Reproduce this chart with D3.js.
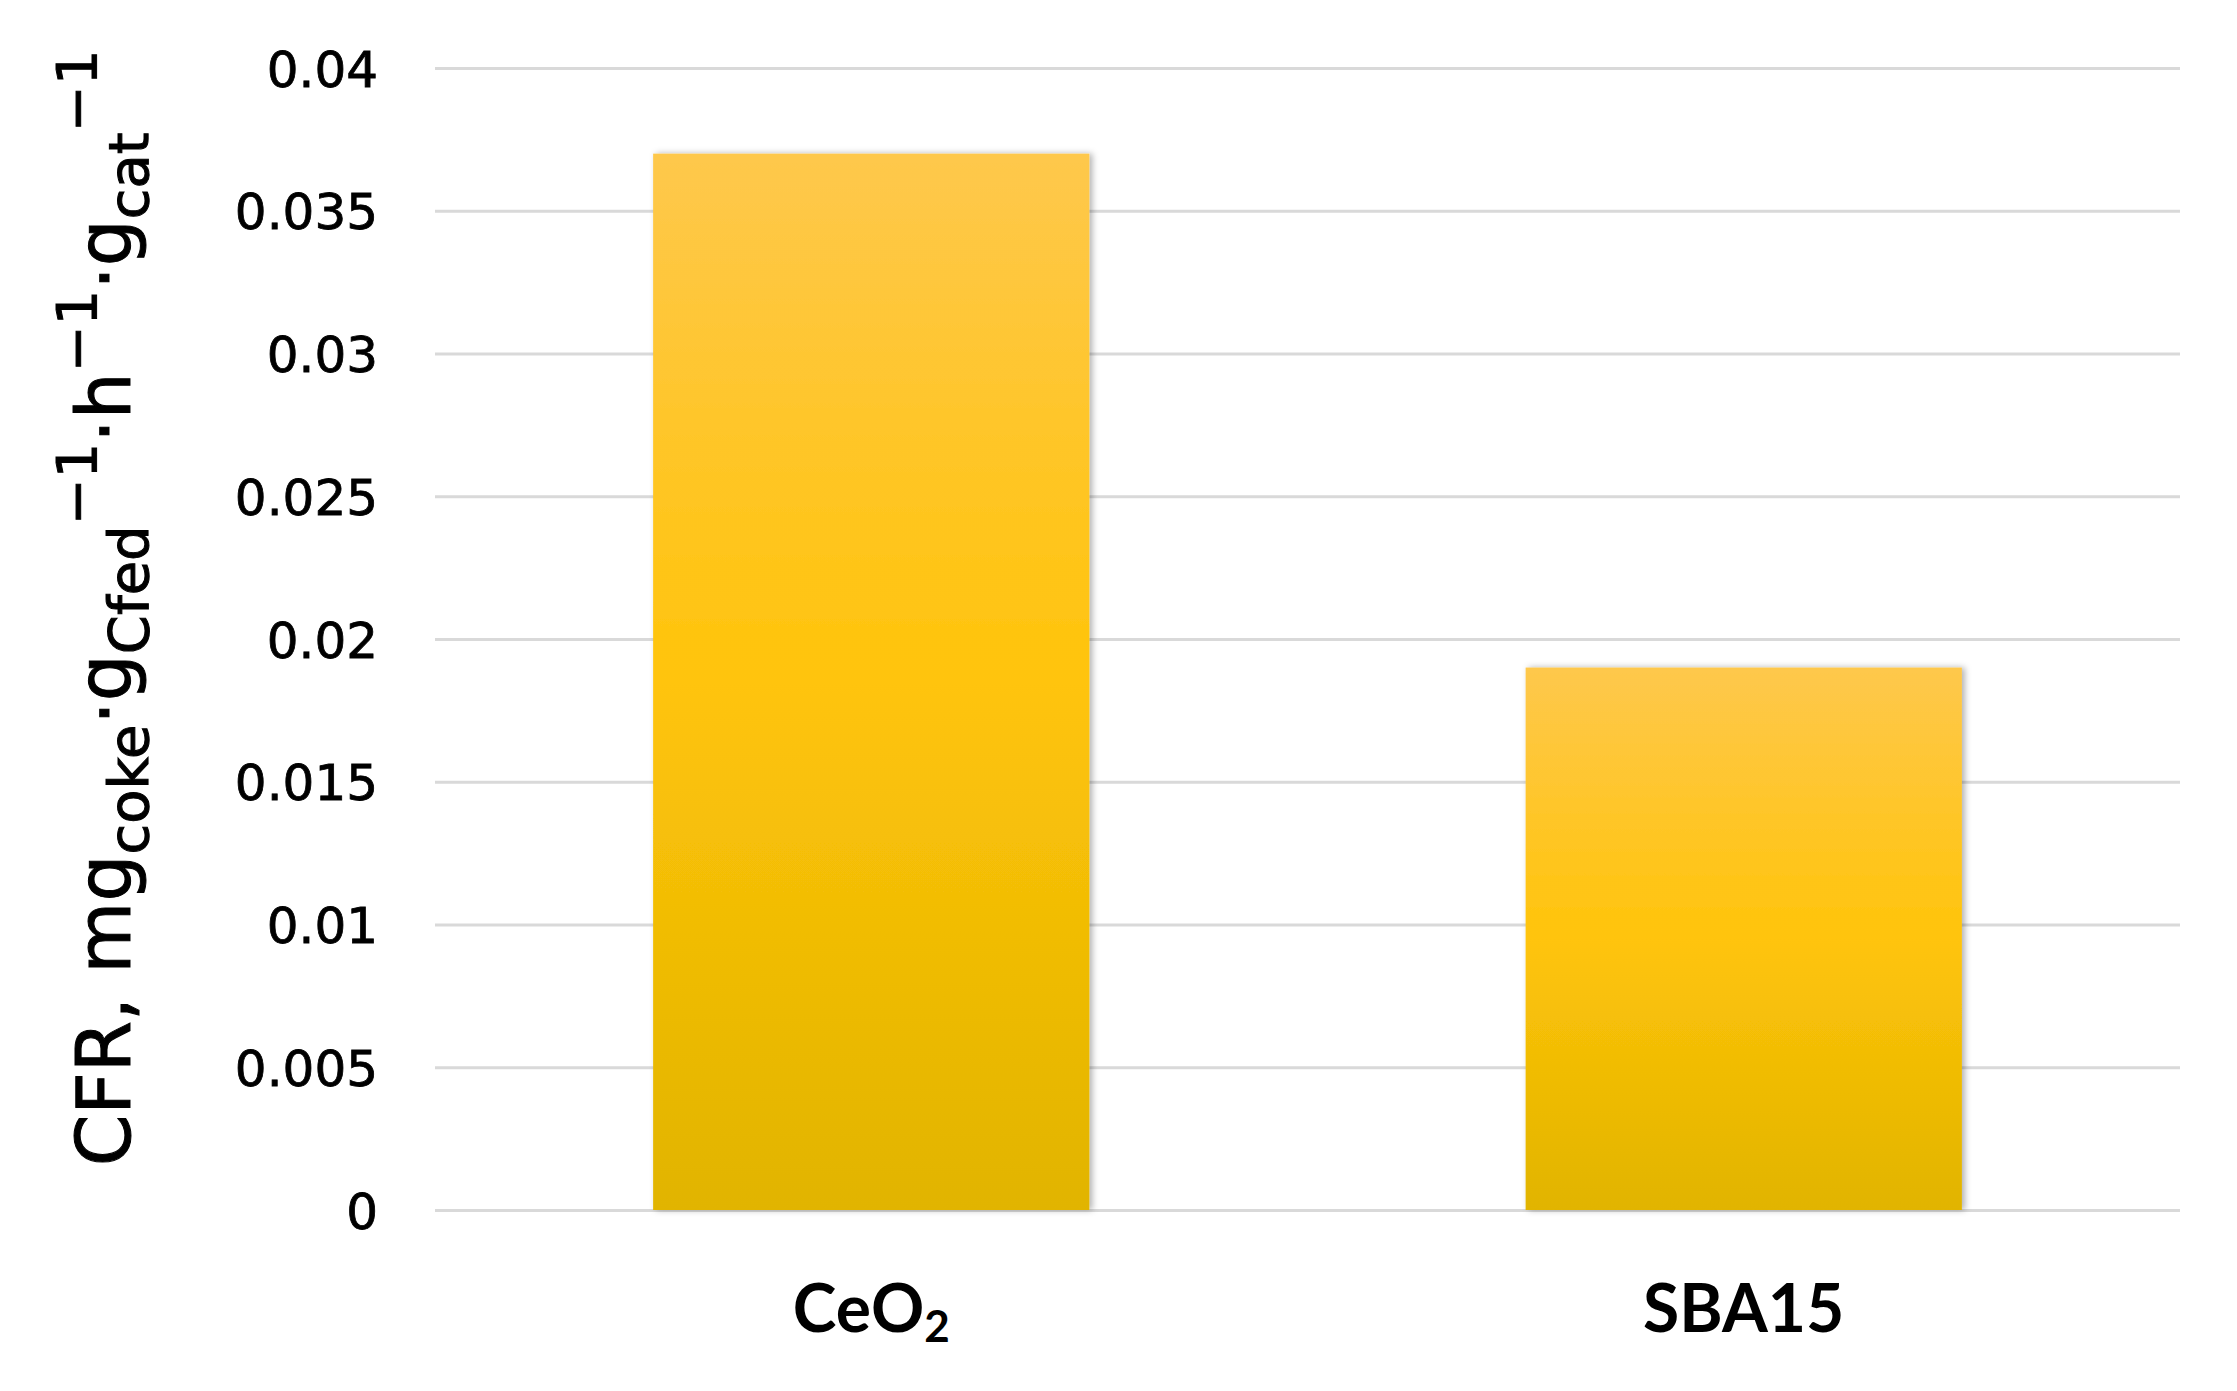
<!DOCTYPE html>
<html><head><meta charset="utf-8">
<script src="https://cdn.jsdelivr.net/npm/d3@7"></script>
<style>html,body{margin:0;padding:0;background:#fff;}</style>
</head><body>
<svg id="chart" width="2237" height="1391"></svg>
<script>
const categories = ["CeO2", "SBA15"];
const values = [0.037, 0.019];
const yTicks = [0, 0.005, 0.01, 0.015, 0.02, 0.025, 0.03, 0.035, 0.04];
const yTickLabels = ["0", "0.005", "0.01", "0.015", "0.02", "0.025", "0.03", "0.035", "0.04"];

(function () {
const svg = d3.select("#chart");
const mLeft = 435, mRight = 2180, mTop = 68, mBottom = 1210;

const x = d3.scaleBand().domain(categories).range([mLeft, mRight]).paddingInner(0.5).paddingOuter(0.25);
const y = d3.scaleLinear().domain([0, 0.04]).range([mBottom, mTop]);

const defs = svg.append("defs");
const grad = defs.append("linearGradient").attr("id", "barGrad").attr("x1", 0).attr("y1", 0).attr("x2", 0).attr("y2", 1);
grad.append("stop").attr("offset", "0%").attr("stop-color", "#FEC84C");
grad.append("stop").attr("offset", "50%").attr("stop-color", "#FFC40A");
grad.append("stop").attr("offset", "100%").attr("stop-color", "#E1B400");
const filt = defs.append("filter").attr("id", "shadow").attr("x", "-10%").attr("y", "-10%").attr("width", "120%").attr("height", "120%");
filt.append("feDropShadow").attr("dx", 3).attr("dy", 0).attr("stdDeviation", 3).attr("flood-color", "#000").attr("flood-opacity", 0.3);

// gridlines
const yAxis = d3.axisLeft(y).tickValues(yTicks).tickSize(-(mRight - mLeft)).tickFormat((d, i) => yTickLabels[i]);
const gy = svg.append("g").attr("transform", `translate(${mLeft},0)`).call(yAxis);
gy.select(".domain").remove();
gy.selectAll(".tick line").attr("stroke", "#d9d9d9").attr("stroke-width", 3);
gy.selectAll(".tick text").attr("x", -57).attr("dy", "0.36em")
  .attr("font-family", "DejaVu Sans").attr("font-size", 50).attr("fill", "#000")
  .attr("stroke", "#000").attr("stroke-width", 0.8);

// bars
svg.append("g").selectAll("rect").data(values).join("rect")
  .attr("x", (d, i) => x(categories[i]))
  .attr("y", d => y(d))
  .attr("width", x.bandwidth())
  .attr("height", d => y(0) - y(d))
  .attr("fill", "url(#barGrad)")
  .attr("filter", "url(#shadow)");

// x labels
const xAxis = d3.axisBottom(x).tickSize(0);
const gx = svg.append("g").attr("transform", `translate(0,${mBottom})`).call(xAxis);
gx.select(".domain").remove();
gx.selectAll(".tick text").each(function(d) {
  const t = d3.select(this);
  t.text(null).attr("y", 122).attr("dy", 0)
    .attr("font-family", "Lato, 'Open Sans', sans-serif").attr("font-weight", 700)
    .attr("font-size", 66).attr("fill", "#000");
  if (d === "CeO2") {
    t.append("tspan").text("CeO");
    t.append("tspan").text("2").attr("font-size", 44).attr("dy", 10);
  } else {
    t.append("tspan").text(d);
  }
});

// y title
const title = svg.append("text")
  .attr("transform", `translate(130,608) rotate(-90)`)
  .attr("text-anchor", "middle")
  .attr("font-family", "DejaVu Sans").attr("font-size", 74).attr("fill", "#000")
  .attr("stroke", "#000").attr("stroke-width", 1);
const sub = 56, subDy = 18, supDy = -34;
title.append("tspan").text("CFR, mg");
title.append("tspan").text("coke").attr("font-size", sub).attr("dy", subDy);
title.append("tspan").text("·g").attr("dy", -subDy);
title.append("tspan").text("Cfed").attr("font-size", sub).attr("dy", subDy);
title.append("tspan").text("−1").attr("font-size", sub).attr("dy", supDy - subDy);
title.append("tspan").text("·h").attr("dy", -supDy);
title.append("tspan").text("−1").attr("font-size", sub).attr("dy", supDy);
title.append("tspan").text("·g").attr("dy", -supDy);
title.append("tspan").text("cat").attr("font-size", sub).attr("dy", subDy);
title.append("tspan").text("−1").attr("font-size", sub).attr("dy", supDy - subDy);
})();
</script>
</body></html>
